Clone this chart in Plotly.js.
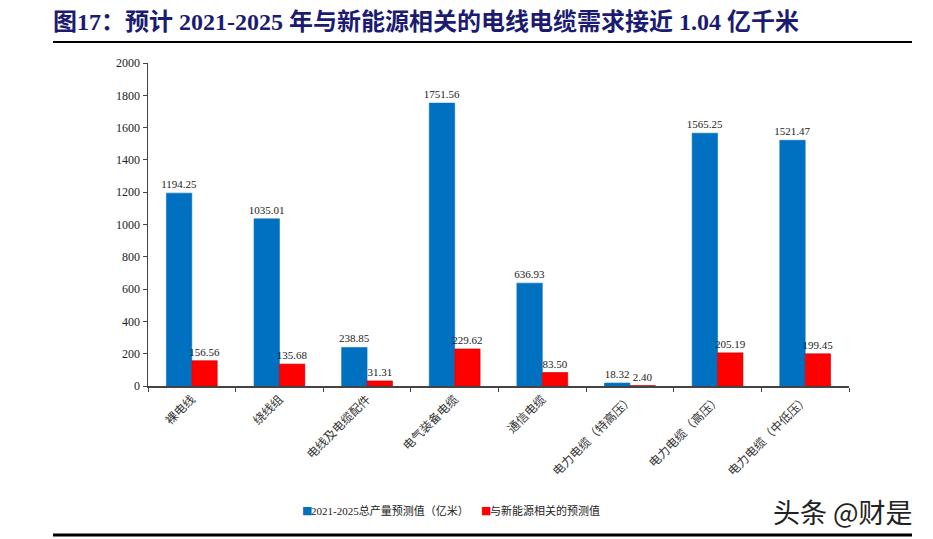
<!DOCTYPE html>
<html>
<head>
<meta charset="utf-8">
<script src="https://cdn.plot.ly/plotly-3.0.1.min.js"></script>
<style>
  html, body { margin: 0; padding: 0; background: #fff; }
  #chart { width: 933px; height: 539px; }
</style>
</head>
<body>
<div id="chart"></div>
<script>
// Cable categories and 2021-2025 forecast values (亿米)
const categories = ['裸电线', '绕线组', '电线及电缆配件', '电气装备电缆', '通信电缆',
                    '电力电缆（特高压）', '电力电缆（高压）', '电力电缆（中低压）'];
const totalForecast = [1194.25, 1035.01, 238.85, 1751.56, 636.93, 18.32, 1565.25, 1521.47];
const newEnergyForecast = [156.56, 135.68, 31.31, 229.62, 83.50, 2.40, 205.19, 199.45];
const seriesNames = ['2021-2025总产量预测值（亿米）', '与新能源相关的预测值'];
const seriesColors = ['#0070C0', '#FF0000'];
const yTicks = [0, 200, 400, 600, 800, 1000, 1200, 1400, 1600, 1800, 2000];

const serif = '"Liberation Serif", "DejaVu Serif", "Noto Sans CJK SC", serif';
const labelFont = { family: serif, size: 11, color: '#222' };

const traces = [totalForecast, newEnergyForecast].map((vals, i) => ({
  type: 'bar', name: seriesNames[i], x: categories, y: vals,
  marker: { color: seriesColors[i], line: { color: i ? '#C00000' : '#0070C0', width: 0.6 } },
  text: vals.map(v => v.toFixed(2)), textposition: 'outside',
  constraintext: 'none', textfont: labelFont, cliponaxis: false,
  showlegend: false
}));

// Legend entries drawn as coloured squares followed by the series name
const legendX = [(300 - 148) / 701, (479 - 148) / 701];
const legendY = (386 - 510) / 323;
const legendNotes = [];
seriesNames.forEach((name, i) => {
  legendNotes.push({
    text: '■', xref: 'paper', yref: 'paper', x: legendX[i], y: legendY,
    xanchor: 'left', yanchor: 'middle', showarrow: false,
    font: { family: '"DejaVu Sans", sans-serif', size: 11, color: seriesColors[i] }
  });
  legendNotes.push({
    text: name, xref: 'paper', yref: 'paper', x: legendX[i] + 9 / 701, y: legendY,
    xanchor: 'left', yanchor: 'middle', showarrow: false,
    font: { family: serif, size: 11, color: '#222' }
  });
});

const layout = {
  width: 933, height: 539,
  margin: { l: 148, r: 84, t: 63, b: 153 },
  paper_bgcolor: '#fff', plot_bgcolor: '#fff',
  barmode: 'group', bargap: 0.42, bargroupgap: 0,
  title: {
    text: '图17：预计 2021-2025 年与新能源相关的电线电缆需求接近 1.04 亿千米',
    font: { family: '"Liberation Serif", "Noto Sans CJK SC", serif', size: 24, color: '#1B1B72', weight: 'bold' },
    xref: 'container', yref: 'container', x: 53 / 933, xanchor: 'left',
    y: 1 - 22 / 539, yanchor: 'middle'
  },
  xaxis: {
    type: 'category', tickangle: -45, showline: true, linecolor: '#444', linewidth: 1.5,
    ticks: 'outside', tickson: 'boundaries', ticklen: 4, tickcolor: '#444',
    tickfont: { family: '"Noto Sans CJK SC", sans-serif', size: 12, color: '#333' },
    showgrid: false, zeroline: false, fixedrange: true
  },
  yaxis: {
    range: [0, 2000], tickvals: yTicks, showline: true, linecolor: '#444', linewidth: 1.5,
    ticks: 'outside', ticklen: 4, tickcolor: '#444',
    tickfont: { family: serif, size: 12, color: '#222' },
    showgrid: false, zeroline: false, fixedrange: true
  },
  showlegend: false,
  shapes: [
    { type: 'line', xref: 'paper', yref: 'paper', x0: -0.1355, x1: 1.0899, y0: 1.065, y1: 1.065,
      line: { color: '#000', width: 2 } },
    { type: 'line', xref: 'paper', yref: 'paper', x0: -0.1355, x1: 1.0899, y0: -0.461, y1: -0.461,
      line: { color: '#000', width: 3 } }
  ],
  annotations: legendNotes.concat([
    { text: '头条 @财是', xref: 'paper', yref: 'paper', x: 1.094, y: -0.39,
      xanchor: 'right', yanchor: 'middle', showarrow: false,
      font: { family: '"Noto Sans CJK SC", sans-serif', size: 27, color: '#222' } }
  ])
};

Plotly.newPlot('chart', traces, layout, { displayModeBar: false, staticPlot: true });
</script>
</body>
</html>
